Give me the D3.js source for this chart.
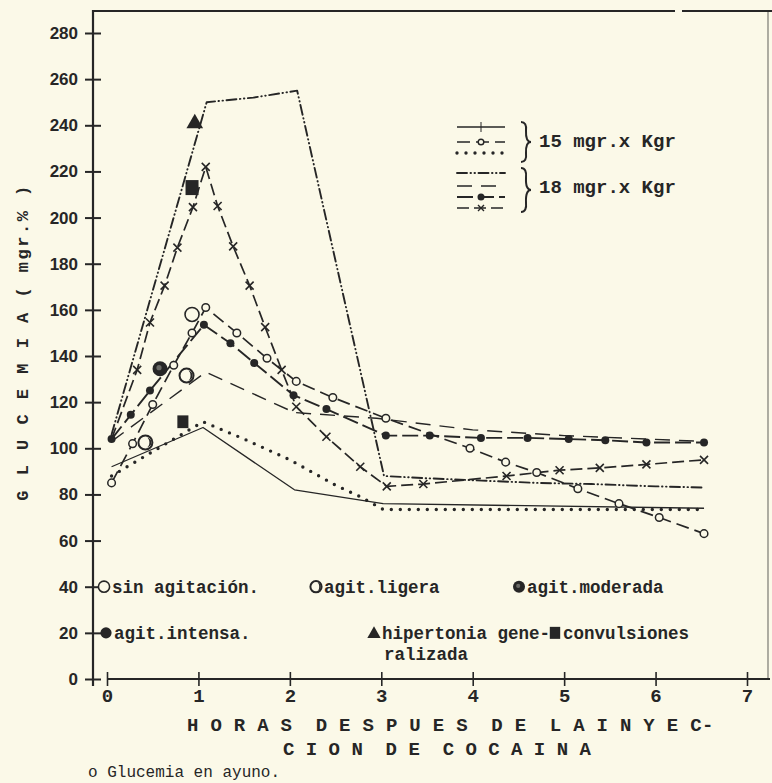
<!DOCTYPE html>
<html>
<head>
<meta charset="utf-8">
<script src="https://cdn.jsdelivr.net/npm/d3@7"></script>
<style>
  body { margin: 0; background: #fbf9e8; }
  svg { display: block; }
  text { fill: #262626; font-family: "Liberation Mono", "DejaVu Sans Mono", monospace; }
</style>
</head>
<body>
<svg id="chart" width="772" height="783"></svg>
<script>
// glucemia (mgr.%) vs horas despues de la inyeccion as [hora, valor]
// 15 mgr.x Kgr
var solid15 = [[0.05,92],[1.05,109],[2.05,82],[3.02,76],[6.53,74]];
var circle15 = [[0.05,85],[0.28,102],[0.5,119],[0.73,136],[0.93,150],[1.08,161],[1.42,150],[1.75,139],[2.07,129],[2.47,122],[3.05,113],[3.97,100],[4.36,94],[4.7,89.5],[5.15,82.5],[5.6,76],[6.04,70],[6.53,63]];
var dotted15 = [[0.05,88],[1.05,111.5],[1.5,104],[2.0,95],[2.5,84],[2.77,79],[3.02,73.5],[6.53,73.5]];
// 18 mgr.x Kgr
var dashdot18 = [[0.05,106],[1.09,250],[1.6,252],[2.08,255],[3.03,88],[3.5,87],[4.1,86],[4.7,85],[5.3,84.5],[6.0,83.5],[6.53,83]];
var dashed18 = [[0.05,103],[1.08,133],[2.05,115.5],[2.95,113],[4,108],[5,105.5],[6.53,103]];
var filled18 = [[0.05,104],[0.26,114.5],[0.47,125],[1.06,153.5],[1.35,145.5],[1.61,137],[2.04,123],[2.4,117],[3.05,105.5],[3.53,105.5],[4.09,104.5],[4.6,104.5],[5.05,104],[5.45,103.5],[5.9,102.5],[6.53,102.5]];
var cross18 = [[0.05,104],[0.33,134],[0.47,154.5],[0.63,170.5],[0.77,187],[0.94,204.5],[1.08,222],[1.21,205],[1.38,187.5],[1.56,170.5],[1.73,152.5],[1.91,134],[2.07,118],[2.4,105],[2.77,92],[3.06,83.5],[3.46,84.5],[4.37,88],[4.95,90.5],[5.39,91.5],[5.9,93],[6.53,95]];

// symptom symbols placed on the plot: [tipo, hora, valor]
var symptomPoints = [["sin",0.93,158],["ligera",0.42,102.5],["ligera",0.87,131.5],["moderada",0.58,134.5],["hiper",0.96,241.5],["conv",0.93,213],["conv",0.83,111.5]];

var yTicks = [0,20,40,60,80,100,120,140,160,180,200,220,240,260,280];
var xTicks = [0,1,2,3,4,5,6,7];
var doses = ["15 mgr.x Kgr", "18 mgr.x Kgr"];
var symptomLabels = [["sin","sin agitación."],["ligera","agit.ligera"],["moderada","agit.moderada"],["intensa","agit.intensa."],["hiper","hipertonia gene-"],["conv","convulsiones"]];

var ink = "#262626", paper = "#fbf9e8";
var svg = d3.select("#chart");
svg.append("rect").attr("width", 772).attr("height", 783).attr("fill", paper);

var x = d3.scaleLinear().domain([0, 7]).range([107, 747]);
var y = d3.scaleLinear().domain([0, 280]).range([679, 33]);

// frame
svg.append("line").attr("x1", 93).attr("x2", 675).attr("y1", 11).attr("y2", 11).attr("stroke", ink).attr("stroke-width", 2);
svg.append("line").attr("x1", 682).attr("x2", 772).attr("y1", 11).attr("y2", 11).attr("stroke", ink).attr("stroke-width", 2);
svg.append("line").attr("x1", 768).attr("x2", 768).attr("y1", 11).attr("y2", 679).attr("stroke", ink).attr("stroke-width", 1.2).attr("opacity", 0.6);
svg.append("line").attr("x1", 93).attr("x2", 93).attr("y1", 10).attr("y2", 686).attr("stroke", ink).attr("stroke-width", 2.2);
svg.append("line").attr("x1", x(0)).attr("x2", 770).attr("y1", y(0)).attr("y2", y(0)).attr("stroke", ink).attr("stroke-width", 1.8);

// axes
var yAxis = svg.append("g").attr("transform", "translate(101,0)")
  .call(d3.axisLeft(y).tickValues(yTicks).tickSize(16).tickPadding(7).tickFormat(d3.format("d")));
yAxis.select(".domain").remove();
yAxis.selectAll("line").attr("stroke", ink).attr("stroke-width", 2);
yAxis.selectAll("text").style("font-family", "'Liberation Sans', sans-serif").style("font-weight", "bold").style("font-size", "17px").attr("fill", ink);

var xAxis = svg.append("g").attr("transform", "translate(0,672)")
  .call(d3.axisBottom(x).tickValues(xTicks).tickSize(14).tickPadding(3).tickFormat(d3.format("d")));
xAxis.select(".domain").remove();
xAxis.selectAll("line").attr("stroke", ink).attr("stroke-width", 1.6);
xAxis.selectAll("text").style("font-size", "19px").style("font-weight", "bold").attr("fill", ink);

// series
var line = d3.line().x(function(d) { return x(d[0]); }).y(function(d) { return y(d[1]); });
var styles = [
  { data: solid15,   w: 1.3, dash: null },
  { data: dotted15,  w: 3.4, dash: "0 9", cap: "round" },
  { data: circle15,  w: 1.7, dash: "13 6" },
  { data: dashdot18, w: 1.9, dash: "10 3.5 0.5 3.5 0.5 3.5", cap: "round" },
  { data: dashed18,  w: 1.4, dash: "15 9" },
  { data: filled18,  w: 1.9, dash: "16 5" },
  { data: cross18,   w: 1.7, dash: "12 5" }
];
styles.forEach(function(s) {
  svg.append("path").datum(s.data).attr("fill", "none").attr("stroke", ink)
    .attr("stroke-width", s.w).attr("stroke-dasharray", s.dash)
    .attr("stroke-linecap", s.cap || "butt").attr("stroke-linejoin", "round").attr("d", line);
});

svg.append("g").selectAll("circle").data(circle15).join("circle")
  .attr("cx", function(d) { return x(d[0]); }).attr("cy", function(d) { return y(d[1]); })
  .attr("r", 3.8).attr("fill", paper).attr("stroke", ink).attr("stroke-width", 1.5);
svg.append("g").selectAll("circle").data(filled18).join("circle")
  .attr("cx", function(d) { return x(d[0]); }).attr("cy", function(d) { return y(d[1]); })
  .attr("r", 4).attr("fill", ink);
svg.append("g").selectAll("path").data(cross18.slice(1)).join("path")
  .attr("transform", function(d) { return "translate(" + x(d[0]) + "," + y(d[1]) + ")"; })
  .attr("d", "M-4,-4L4,4M-4,4L4,-4").attr("stroke", ink).attr("stroke-width", 1.6);

// symptom symbols
function drawSymbol(g, kind, s) {
  if (kind == "sin") {
    g.append("circle").attr("r", 7 * s).attr("fill", paper).attr("stroke", ink).attr("stroke-width", 1.6);
  } else if (kind == "ligera") {
    g.append("circle").attr("r", 7 * s).attr("fill", paper).attr("stroke", ink).attr("stroke-width", 2);
    g.append("path").attr("d", "M" + (1 * s) + "," + (-5 * s) + "A" + (5 * s) + "," + (5 * s) + " 0 0 1 " + (1 * s) + "," + (5 * s) + "A" + (3 * s) + "," + (5 * s) + " 0 0 0 " + (1 * s) + "," + (-5 * s) + "Z").attr("fill", ink);
  } else if (kind == "moderada") {
    g.append("circle").attr("r", 7.5 * s).attr("fill", ink);
    g.append("circle").attr("r", 2.6 * s).attr("cx", -1 * s).attr("cy", -1 * s).attr("fill", "#6a6a66");
  } else if (kind == "intensa") {
    g.append("circle").attr("r", 7 * s).attr("fill", ink);
  } else if (kind == "hiper") {
    g.append("path").attr("d", d3.symbol(d3.symbolTriangle, 120 * s * s)()).attr("transform", "translate(0," + (1.5 * s) + ")").attr("fill", ink);
  } else if (kind == "conv") {
    g.append("rect").attr("x", -6.5 * s).attr("y", -7.5 * s).attr("width", 13 * s).attr("height", 15 * s).attr("fill", ink);
  }
}
symptomPoints.forEach(function(p) {
  var g = svg.append("g").attr("transform", "translate(" + x(p[1]) + "," + y(p[2]) + ")");
  drawSymbol(g, p[0], p[0] == "conv" && p[2] < 150 ? 0.85 : 1);
});

// symptom legend (two rows inside the plot)
var legPos = [[104, 40], [316, 40], [519, 40], [106, 20], [374, 20], [555, 20]];
symptomLabels.forEach(function(l, i) {
  var cx = legPos[i][0], cy = y(legPos[i][1]);
  var g = svg.append("g").attr("transform", "translate(" + cx + "," + cy + ")");
  drawSymbol(g, l[0], 0.8);
  svg.append("text").attr("x", cx + 8).attr("y", cy + 6).style("font-size", "17.5px").style("font-weight", "bold").text(l[1]);
});
svg.append("text").attr("x", 384).attr("y", y(20) + 27).style("font-size", "17.5px").style("font-weight", "bold").text("ralizada");

// dose legend (top right)
var keyX = [457, 505];
var keyRows = [
  [127, styles[0]], [142, styles[2]], [153, styles[1]],
  [173, styles[3]], [186, styles[4]], [197, styles[5]], [208, styles[6]]
];
keyRows.forEach(function(r) {
  svg.append("line").attr("x1", keyX[0]).attr("x2", keyX[1]).attr("y1", r[0]).attr("y2", r[0])
    .attr("stroke", ink).attr("stroke-width", r[1].w).attr("stroke-dasharray", r[1].dash)
    .attr("stroke-linecap", r[1].cap || "butt");
});
var mid = (keyX[0] + keyX[1]) / 2;
svg.append("line").attr("x1", mid).attr("x2", mid).attr("y1", 122).attr("y2", 132).attr("stroke", ink).attr("stroke-width", 1);
svg.append("circle").attr("cx", mid).attr("cy", 142).attr("r", 2.8).attr("fill", paper).attr("stroke", ink).attr("stroke-width", 1.4);
svg.append("circle").attr("cx", mid).attr("cy", 197).attr("r", 3.5).attr("fill", ink);
svg.append("path").attr("transform", "translate(" + mid + ",208)").attr("d", "M-3,-3L3,3M-3,3L3,-3").attr("stroke", ink).attr("stroke-width", 1.4);

function brace(x0, y1, y2, w) {
  var m = (y1 + y2) / 2, h = y2 - y1;
  return "M" + x0 + "," + y1 +
    "Q" + (x0 + w * 0.6) + "," + y1 + " " + (x0 + w * 0.5) + "," + (y1 + h * 0.22) +
    "Q" + (x0 + w * 0.45) + "," + m + " " + (x0 + w) + "," + m +
    "Q" + (x0 + w * 0.45) + "," + m + " " + (x0 + w * 0.5) + "," + (y2 - h * 0.22) +
    "Q" + (x0 + w * 0.6) + "," + y2 + " " + x0 + "," + y2;
}
[[122, 162, 147, doses[0]], [168, 212, 193, doses[1]]].forEach(function(d) {
  svg.append("path").attr("d", brace(521, d[0], d[1], 10)).attr("fill", "none").attr("stroke", ink).attr("stroke-width", 2);
  svg.append("text").attr("x", 539).attr("y", d[2]).style("font-size", "19px").style("font-weight", "bold").text(d[3]);
});

// axis titles
svg.append("text").attr("transform", "translate(28,342) rotate(-90)").attr("text-anchor", "middle")
  .style("font-size", "17px").style("font-weight", "bold").style("letter-spacing", "2.5px")
  .style("white-space", "pre").text("G L U C E M I A ( mgr.% )");
svg.append("text").attr("x", 187).attr("y", 731).style("font-size", "19px").style("font-weight", "bold")
  .style("letter-spacing", "0.3px").style("white-space", "pre").text("H O R A S  D E S P U E S  D E  L A I N Y E C-");
svg.append("text").attr("x", 283).attr("y", 755).style("font-size", "19px").style("font-weight", "bold")
  .style("white-space", "pre").text("C I O N  D E  C O C A I N A");
svg.append("text").attr("x", 88).attr("y", 777).style("font-size", "16px")
  .text("o Glucemia en ayuno.");
</script>
</body>
</html>
